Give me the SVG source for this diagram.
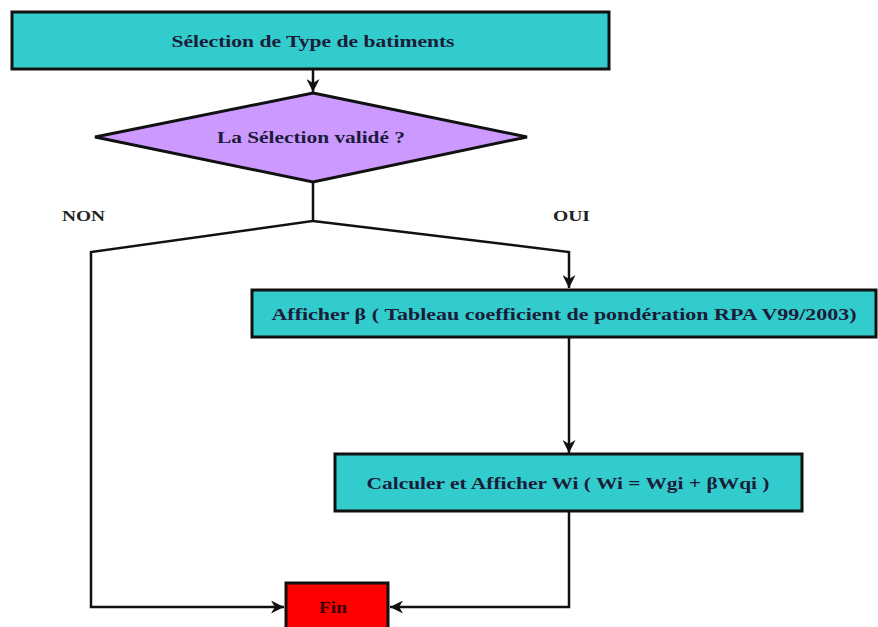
<svg xmlns="http://www.w3.org/2000/svg" width="878" height="627" viewBox="0 0 878 627">
  <style>
    .box { fill: #33cccc; stroke: #111; stroke-width: 3; }
    .dec { fill: #cc99ff; stroke: #111; stroke-width: 3; stroke-linejoin: miter; }
    .end { fill: #ff0000; stroke: #111; stroke-width: 3; }
    .lbl { font-family: "Liberation Serif", "Times New Roman", serif; font-weight: bold; font-size: 17px; fill: #1b1b3a; text-anchor: middle; }
    .tag { font-family: "Liberation Serif", "Times New Roman", serif; font-weight: bold; font-size: 15px; fill: #222; }
    .edge { fill: none; stroke: #111; stroke-width: 2.5; }
  </style>
  <defs>
    <marker id="arrow" viewBox="0 0 10 10" refX="10" refY="5" markerWidth="5.6" markerHeight="5.2" orient="auto" markerUnits="strokeWidth">
      <path d="M0,0 L10,5 L0,10 L3,5 Z" fill="#111"/>
    </marker>
  </defs>
  <rect width="878" height="627" fill="#ffffff"/>

  <g id="connectors">
    <path class="edge" d="M313,69 L313,92" marker-end="url(#arrow)"/>
    <path class="edge" d="M313,182 L313,221 L91,252 L91,607 L284,607" marker-end="url(#arrow)"/>
    <path class="edge" d="M313,221 L569,252 L569,288" marker-end="url(#arrow)"/>
    <path class="edge" d="M569,337 L569,453" marker-end="url(#arrow)"/>
    <path class="edge" d="M569,511 L569,607 L390,607" marker-end="url(#arrow)"/>
  </g>

  <g id="start">
    <rect class="box" x="12" y="12" width="597" height="57"/>
    <text class="lbl" x="313" y="47" textLength="283" lengthAdjust="spacingAndGlyphs">Sélection de Type de batiments</text>
  </g>

  <g id="decision">
    <polygon class="dec" points="313,93 527,137 313,182 95,137"/>
    <text class="lbl" x="311" y="143" textLength="188" lengthAdjust="spacingAndGlyphs">La Sélection validé ?</text>
  </g>

  <g id="label-non">
    <text class="tag" x="62" y="221" textLength="43" lengthAdjust="spacingAndGlyphs">NON</text>
  </g>
  <g id="label-oui">
    <text class="tag" x="553" y="221" textLength="37" lengthAdjust="spacingAndGlyphs">OUI</text>
  </g>

  <g id="afficher-beta">
    <rect class="box" x="252" y="290" width="624" height="47"/>
    <text class="lbl" x="564" y="320" textLength="585" lengthAdjust="spacingAndGlyphs">Afficher β ( Tableau coefficient de pondération RPA V99/2003)</text>
  </g>

  <g id="calculer-wi">
    <rect class="box" x="335" y="454" width="467" height="57"/>
    <text class="lbl" x="568" y="489" textLength="403" lengthAdjust="spacingAndGlyphs">Calculer et Afficher Wi ( Wi = Wgi + βWqi )</text>
  </g>

  <g id="fin">
    <rect class="end" x="286" y="583" width="102" height="46"/>
    <text class="lbl" x="333" y="613" textLength="28" lengthAdjust="spacingAndGlyphs" style="fill:#3a0000">Fin</text>
  </g>
</svg>
